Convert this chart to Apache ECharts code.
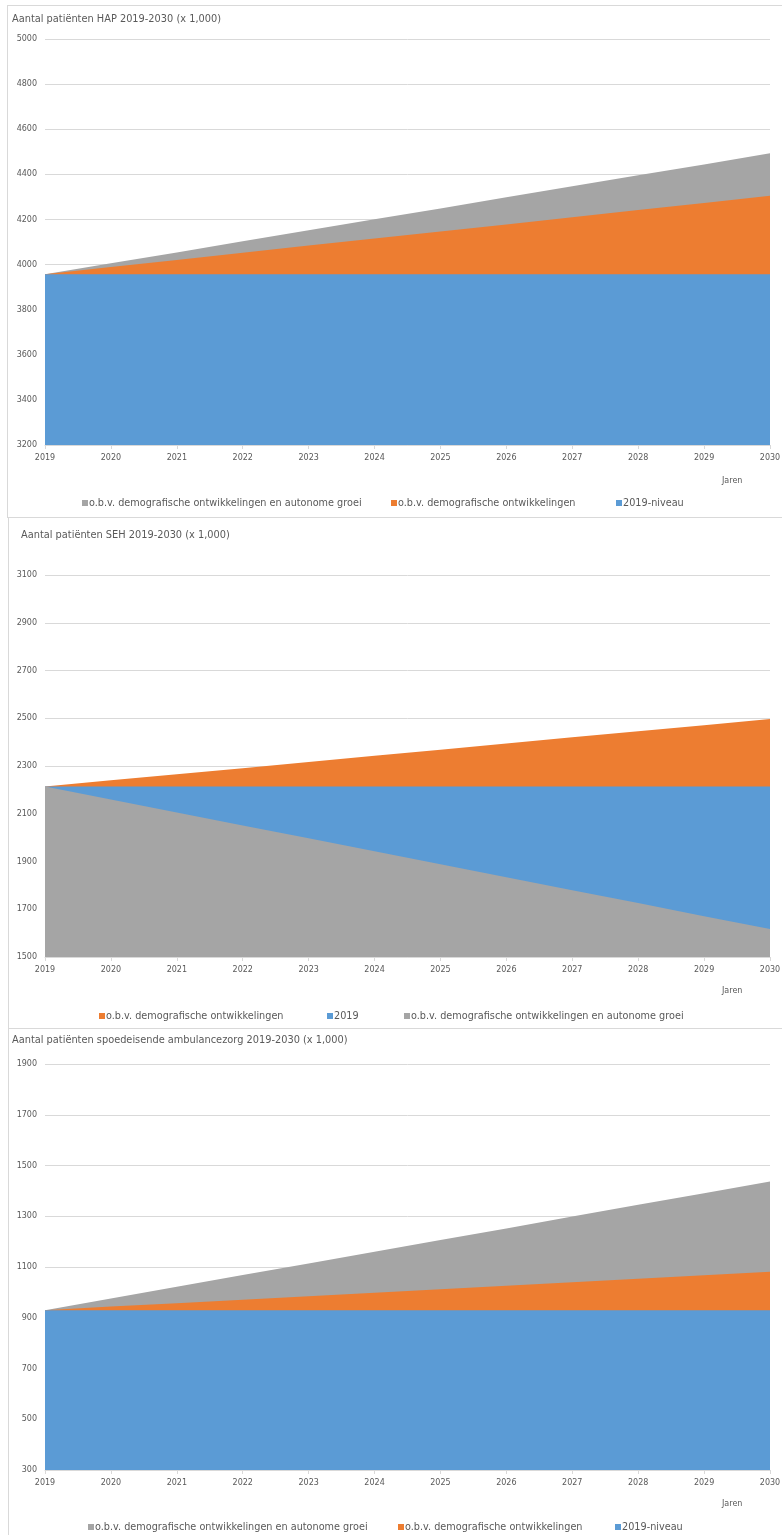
<!DOCTYPE html>
<html>
<head>
<meta charset="utf-8">
<script src="https://cdn.jsdelivr.net/npm/echarts@6/dist/echarts.min.js"></script>
<style>
html,body{margin:0;padding:0;background:#fff;width:782px;height:1535px;overflow:hidden;}
.panel{position:absolute;border:1px solid #d9d9d9;box-sizing:border-box;background:#fff;}
</style>
</head>
<body>
<div id="c1" class="panel" style="left:7px;top:5px;width:790px;height:513px;"></div>
<div id="c2" class="panel" style="left:8px;top:517px;width:790px;height:512px;"></div>
<div id="c3" class="panel" style="left:8px;top:1028px;width:790px;height:512px;"></div>
<script>
var years = ['2019','2020','2021','2022','2023','2024','2025','2026','2027','2028','2029','2030'];

// Chart 1: HAP
var hapGrey   = [3957, 4006, 4054, 4103, 4152, 4201, 4249, 4298, 4347, 4396, 4444, 4493];
var hapOrange = [3957, 3989, 4020, 4052, 4084, 4115, 4147, 4178, 4210, 4242, 4273, 4305];
var hapBlue   = [3957, 3957, 3957, 3957, 3957, 3957, 3957, 3957, 3957, 3957, 3957, 3957];

// Chart 2: SEH
var sehOrange = [2214, 2240, 2265, 2291, 2317, 2343, 2368, 2394, 2420, 2446, 2471, 2497];
var sehBlue   = [2214, 2214, 2214, 2214, 2214, 2214, 2214, 2214, 2214, 2214, 2214, 2214];
var sehGrey   = [2214, 2160, 2105, 2051, 1997, 1943, 1888, 1834, 1780, 1726, 1671, 1617];

// Chart 3: ambulancezorg
var ambGrey   = [930, 976, 1022, 1068, 1114, 1160, 1206, 1252, 1299, 1345, 1391, 1437];
var ambOrange = [930, 944, 957, 971, 985, 999, 1012, 1026, 1040, 1054, 1067, 1081];
var ambBlue   = [930, 930, 930, 930, 930, 930, 930, 930, 930, 930, 930, 930];

var nameGrey = 'o.b.v. demografische ontwikkelingen en autonome groei';
var nameOrange = 'o.b.v. demografische ontwikkelingen';

var COL = {grey:'#A5A5A5', orange:'#ED7D31', blue:'#5B9BD5'};
var FONT = 'DejaVu Sans';
var TXT = '#595959';

function areaSeries(name, data, color){
  return {
    name:name, type:'line', data:data, symbol:'none', silent:true,
    lineStyle:{width:0}, itemStyle:{color:color},
    areaStyle:{color:color, opacity:1, origin:'start'}
  };
}

function build(el, cfg){
  var chart = echarts.init(document.getElementById(el), null, {renderer:'canvas'});
  var legends = cfg.series.map(function(s, i){
    return {
      left:cfg.legendLefts[i], top:cfg.legendTop, padding:0, itemWidth:6, itemHeight:6,
      icon:'rect', selectedMode:false,
      textStyle:{fontFamily:FONT, fontSize:9.7, color:TXT, padding:[0,0,0,-4]},
      data:[{name:s[0], icon:'rect', itemStyle:{color:s[2]}}]
    };
  });
  chart.setOption({
    animation:false,
    backgroundColor:'#fff',
    textStyle:{fontFamily:FONT},
    title:{text:cfg.title, left:cfg.titleLeft, top:cfg.titleTop, padding:0,
      textStyle:{fontFamily:FONT, fontSize:9.8, fontWeight:'normal', color:TXT}},
    grid:{left:cfg.gridLeft, top:cfg.gridTop, width:725, height:cfg.gridHeight, containLabel:false},
    legend:legends,
    xAxis:{
      type:'category', data:years, boundaryGap:false,
      axisLine:{lineStyle:{color:'#d9d9d9'}},
      axisTick:{show:true, length:4, lineStyle:{color:'#d9d9d9'}},
      axisLabel:{fontFamily:FONT, fontSize:8, color:TXT, margin:9},
      splitLine:{show:false}
    },
    yAxis:{
      type:'value', min:cfg.min, max:cfg.max, interval:200,
      axisLine:{show:false}, axisTick:{show:false},
      axisLabel:{fontFamily:FONT, fontSize:8, color:TXT, margin:8,
        formatter:function(v){return String(v);}},
      splitLine:{lineStyle:{color:'#d9d9d9', width:1}}
    },
    graphic:[{
      type:'text', left:cfg.jarenLeft, top:cfg.jarenTop,
      style:{text:'Jaren', fontFamily:FONT, fontSize:8, fill:TXT}
    }],
    series:cfg.series.map(function(s){return areaSeries(s[0], s[1], s[2]);})
  });
}

build('c1', {
  title:'Aantal patiënten HAP 2019-2030 (x 1,000)', titleLeft:4, titleTop:8,
  gridLeft:37, gridTop:33, gridHeight:406, min:3200, max:5000,
  legendLefts:[74, 383, 608], legendTop:492,
  jarenLeft:714, jarenTop:471,
  series:[[nameGrey, hapGrey, COL.grey],[nameOrange, hapOrange, COL.orange],['2019-niveau', hapBlue, COL.blue]]
});
build('c2', {
  title:'Aantal patiënten SEH 2019-2030 (x 1,000)', titleLeft:12, titleTop:12,
  gridLeft:36, gridTop:57, gridHeight:382, min:1500, max:3100,
  legendLefts:[90, 318, 395], legendTop:493,
  jarenLeft:713, jarenTop:469,
  series:[[nameOrange, sehOrange, COL.orange],['2019', sehBlue, COL.blue],[nameGrey, sehGrey, COL.grey]]
});
build('c3', {
  title:'Aantal patiënten spoedeisende ambulancezorg 2019-2030 (x 1,000)', titleLeft:3, titleTop:6,
  gridLeft:36, gridTop:35, gridHeight:406, min:300, max:1900,
  legendLefts:[79, 389, 606], legendTop:493,
  jarenLeft:713, jarenTop:471,
  series:[[nameGrey, ambGrey, COL.grey],[nameOrange, ambOrange, COL.orange],['2019-niveau', ambBlue, COL.blue]]
});
</script>
</body>
</html>
